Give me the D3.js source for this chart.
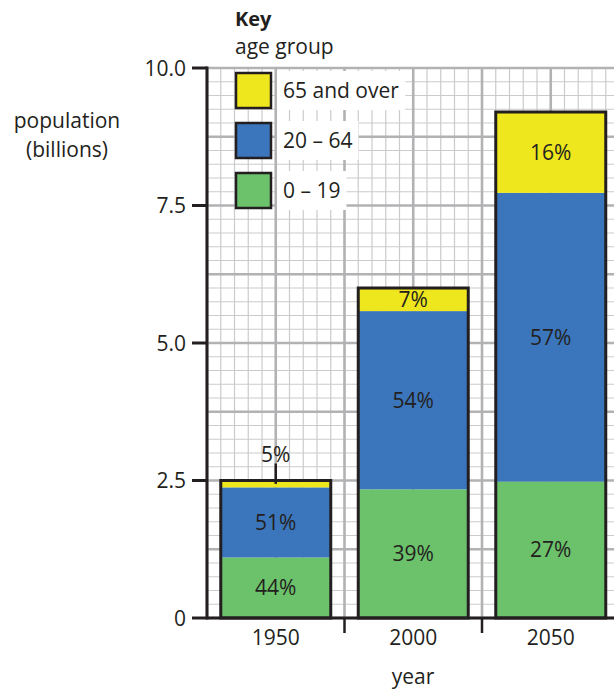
<!DOCTYPE html>
<html>
<head>
<meta charset="utf-8">
<script src="https://cdn.jsdelivr.net/npm/d3@7.9.0/dist/d3.min.js"></script>
<style>
  body { margin: 0; background: #fff; }
  svg { display: block; font-family: 'Open Sans', sans-serif; }
  text { fill: #231f20; }
</style>
</head>
<body>
<div id="chart"></div>
<script>
// data
const years = ['1950', '2000', '2050'];
const groups = ['0 – 19', '20 – 64', '65 and over'];
const young = [1.10, 2.34, 2.48];   // billions
const adult = [1.275, 3.24, 5.25];
const old = [0.125, 0.42, 1.47];
const pctYoung = ['44%', '39%', '27%'];
const pctAdult = ['51%', '54%', '57%'];
const pctOld = ['5%', '7%', '16%'];
const yTicks = [0, 2.5, 5, 7.5, 10];

const colors = { '0 – 19': '#6cc16b', '20 – 64': '#3b76bc', '65 and over': '#efe71d' };
const ink = '#231f20';

const width = 614, height = 694;
const margin = { top: 68, left: 207, bottom: 618 };

const svg = d3.select('#chart').append('svg')
  .attr('width', width).attr('height', height);

const y = d3.scaleLinear().domain([0, 10]).range([margin.bottom, margin.top]);
const x = d3.scaleBand().domain(years)
  .range([margin.left, margin.left + 3 * 137.5])
  .paddingInner(0.2).paddingOuter(0.1);

// graph paper grid, same units as y
const gx = d3.scaleLinear().domain([0, 7.5]).range([margin.left, margin.left + 412.5]);
const grid = svg.append('g').attr('class', 'grid');
const steps = d3.range(0, 40.5, 1).map(i => i * 0.25);
const isMajor = v => Math.abs(v / 1.25 - Math.round(v / 1.25)) < 1e-6;

const hLines = steps.filter(v => v <= 10);
const vLines = steps.filter(v => gx(v) <= width + 1);

// minor first, then major on top
[false, true].forEach(major => {
  grid.append('g').selectAll('line')
    .data(hLines.filter(v => isMajor(v) === major))
    .join('line')
    .attr('x1', margin.left).attr('x2', width)
    .attr('y1', d => y(d)).attr('y2', d => y(d))
    .attr('stroke', major ? '#b2b2b4' : '#cbcbcd')
    .attr('stroke-width', major ? 2.6 : 1.2);
  grid.append('g').selectAll('line')
    .data(vLines.filter(v => isMajor(v) === major))
    .join('line')
    .attr('x1', d => gx(d)).attr('x2', d => gx(d))
    .attr('y1', y(10)).attr('y2', y(0))
    .attr('stroke', major ? '#b2b2b4' : '#cbcbcd')
    .attr('stroke-width', major ? 2.6 : 1.2);
});

// stacked bars
const table = years.map((yr, i) => ({
  year: yr,
  '0 – 19': young[i],
  '20 – 64': adult[i],
  '65 and over': old[i],
  labels: [pctYoung[i], pctAdult[i], pctOld[i]],
}));
const series = d3.stack().keys(groups)(table);

const bars = svg.append('g').attr('class', 'bars');
series.forEach((s, si) => {
  bars.append('g').selectAll('rect')
    .data(s)
    .join('rect')
    .attr('x', d => x(d.data.year))
    .attr('width', x.bandwidth())
    .attr('y', d => y(d[1]))
    .attr('height', d => y(d[0]) - y(d[1]))
    .attr('fill', colors[s.key]);
});

// outline of each bar
bars.append('g').selectAll('rect')
  .data(series[series.length - 1])
  .join('rect')
  .attr('x', d => x(d.data.year))
  .attr('width', x.bandwidth())
  .attr('y', d => y(d[1]))
  .attr('height', d => y(0) - y(d[1]))
  .attr('fill', 'none')
  .attr('stroke', ink)
  .attr('stroke-width', 3);

// percentage labels
const labels = svg.append('g').attr('class', 'labels')
  .style('font-size', '21px').attr('text-anchor', 'middle');
series.forEach((s, si) => {
  s.forEach(d => {
    const cx = x(d.data.year) + x.bandwidth() / 2;
    const top = y(d[1]), bottom = y(d[0]);
    const txt = d.data.labels[si];
    if (bottom - top < 15) {
      // too thin: label above with a pointer
      labels.append('text').attr('x', cx).attr('y', top - 19).text(txt);
      labels.append('line')
        .attr('x1', cx).attr('x2', cx)
        .attr('y1', top - 17).attr('y2', (top + bottom) / 2)
        .attr('stroke', ink).attr('stroke-width', 2.5);
    } else {
      labels.append('text').attr('x', cx).attr('y', (top + bottom) / 2)
        .attr('dy', '0.36em').text(txt);
    }
  });
});

// y axis
const yAxis = svg.append('g').attr('class', 'y-axis');
yAxis.append('line')
  .attr('x1', margin.left).attr('x2', margin.left)
  .attr('y1', y(10) - 1.5).attr('y2', y(0) + 1.5)
  .attr('stroke', ink).attr('stroke-width', 3);
yAxis.selectAll('line.tick').data(yTicks).join('line')
  .attr('class', 'tick')
  .attr('x1', margin.left - 15).attr('x2', margin.left)
  .attr('y1', d => y(d)).attr('y2', d => y(d))
  .attr('stroke', ink).attr('stroke-width', 3);
yAxis.selectAll('text').data(yTicks).join('text')
  .attr('x', margin.left - 21).attr('y', d => y(d)).attr('dy', '0.36em')
  .attr('text-anchor', 'end').style('font-size', '21px')
  .text(d => d === 0 ? '0' : d.toFixed(1));

// x axis
const xAxis = svg.append('g').attr('class', 'x-axis');
xAxis.append('line')
  .attr('x1', margin.left).attr('x2', width)
  .attr('y1', y(0)).attr('y2', y(0))
  .attr('stroke', ink).attr('stroke-width', 3);
xAxis.selectAll('line.tick').data(years.slice(1)).join('line')
  .attr('class', 'tick')
  .attr('x1', d => x(d) - x.step() * x.paddingInner() / 2)
  .attr('x2', d => x(d) - x.step() * x.paddingInner() / 2)
  .attr('y1', y(0)).attr('y2', y(0) + 15)
  .attr('stroke', ink).attr('stroke-width', 2.5);
xAxis.selectAll('text').data(years).join('text')
  .attr('x', d => x(d) + x.bandwidth() / 2).attr('y', 645)
  .attr('text-anchor', 'middle').style('font-size', '21px')
  .text(d => d);

// axis titles
svg.append('text').attr('x', 413).attr('y', 684)
  .attr('text-anchor', 'middle').style('font-size', '21px').text('year');
const yt = svg.append('text').attr('text-anchor', 'middle').style('font-size', '21px');
yt.append('tspan').attr('x', 67).attr('y', 128).text('population');
yt.append('tspan').attr('x', 67).attr('y', 157).text('(billions)');

// key
svg.append('text').attr('x', 235).attr('y', 26)
  .style('font-size', '20px').style('font-weight', 'bold').text('Key');
svg.append('text').attr('x', 235).attr('y', 54)
  .style('font-size', '21px').text('age group');

const legendOrder = groups.slice().reverse();
const legend = svg.append('g').attr('class', 'legend');
legendOrder.forEach((g, i) => {
  const top = 73 + i * 50;
  const item = legend.append('g');
  const bg = item.append('rect').attr('fill', '#fff');
  const t = item.append('text').attr('x', 283).attr('y', top + 17.5)
    .attr('dy', '0.36em').style('font-size', '21px').text(g);
  const bb = t.node().getBBox();
  bg.attr('x', 277).attr('y', top - 2)
    .attr('width', bb.width + 12).attr('height', 39);
  item.append('rect')
    .attr('x', 236).attr('y', top).attr('width', 35).attr('height', 35)
    .attr('fill', colors[g]).attr('stroke', ink).attr('stroke-width', 2.5);
});
</script>
</body>
</html>
